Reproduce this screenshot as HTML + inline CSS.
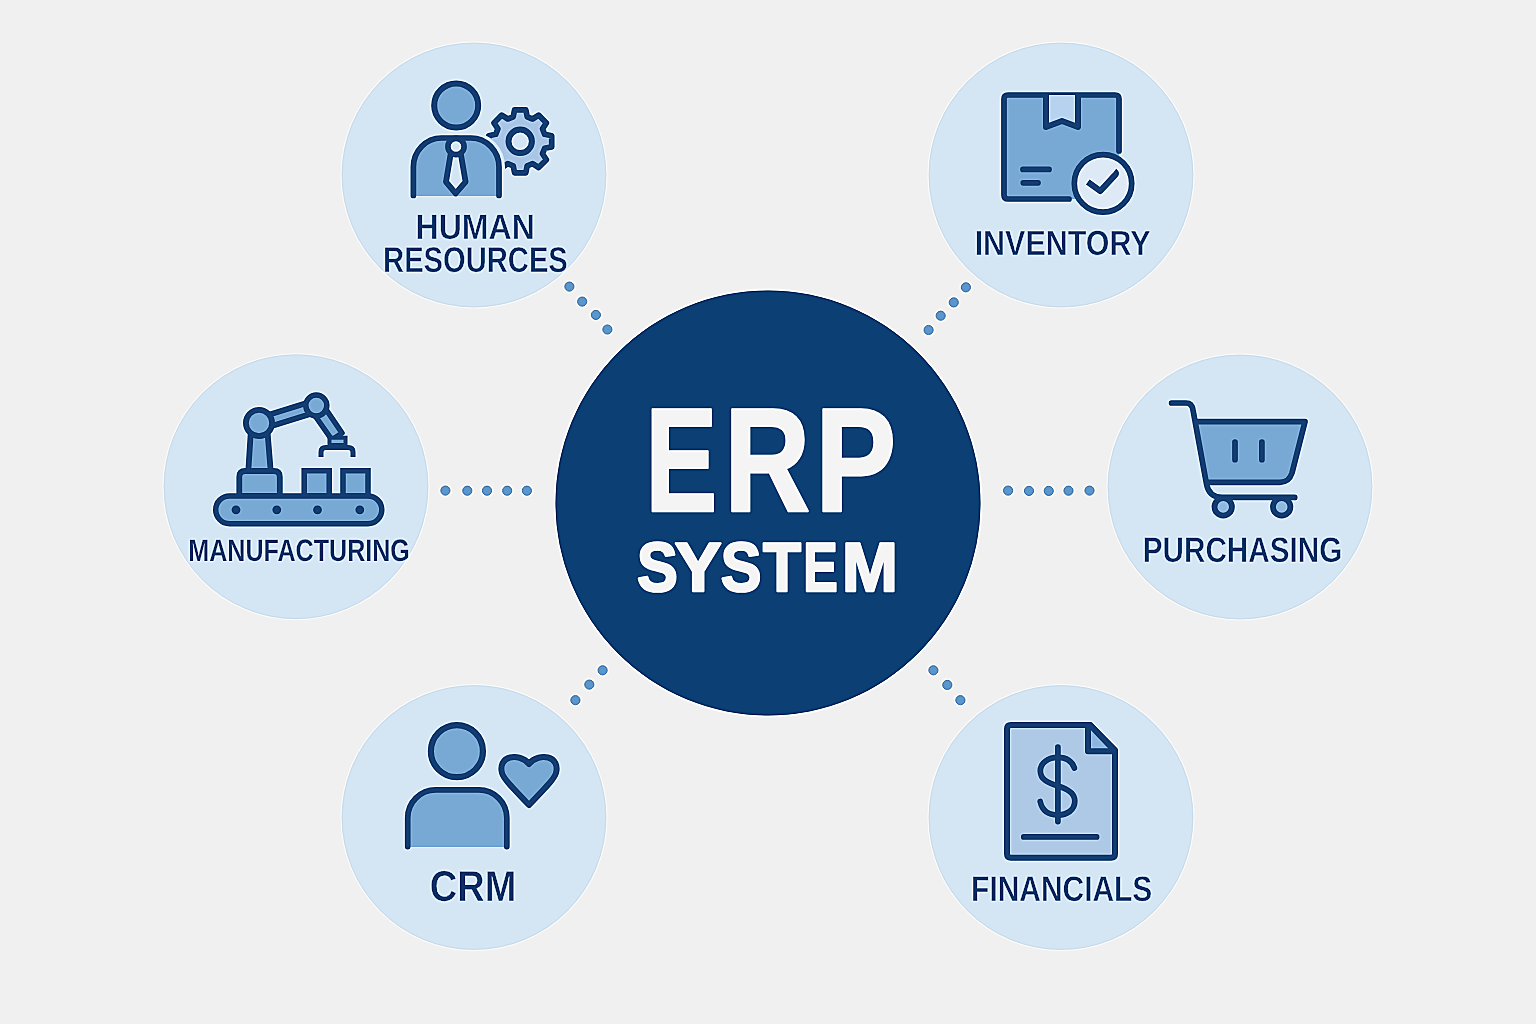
<!DOCTYPE html>
<html><head><meta charset="utf-8"><title>ERP System</title>
<style>html,body{margin:0;padding:0;background:#f0f0f0;}svg{display:block;}</style></head>
<body><svg width="1536" height="1024" viewBox="0 0 1536 1024" font-family="'Liberation Sans', sans-serif">
<defs><filter id="usm" x="-20" y="-20" width="1576" height="1064" filterUnits="userSpaceOnUse" color-interpolation-filters="sRGB"><feGaussianBlur in="SourceGraphic" stdDeviation="0.8" result="b"/><feComposite in="SourceGraphic" in2="b" operator="arithmetic" k1="0" k2="1.8" k3="-0.8" k4="0"/></filter></defs><g filter="url(#usm)"><rect x="-20" y="-20" width="1576" height="1064" fill="#f0f0f0"/>
<circle cx="569.4" cy="286.6" r="4.6" fill="#5e96ca" stroke="#457aae" stroke-width="0.9"/>
<circle cx="582.2" cy="301.6" r="4.6" fill="#5e96ca" stroke="#457aae" stroke-width="0.9"/>
<circle cx="595.9" cy="314.9" r="4.6" fill="#5e96ca" stroke="#457aae" stroke-width="0.9"/>
<circle cx="607.4" cy="329.5" r="4.6" fill="#5e96ca" stroke="#457aae" stroke-width="0.9"/>
<circle cx="965.9" cy="287.3" r="4.6" fill="#5e96ca" stroke="#457aae" stroke-width="0.9"/>
<circle cx="953.75" cy="302.4" r="4.6" fill="#5e96ca" stroke="#457aae" stroke-width="0.9"/>
<circle cx="940.7" cy="315.7" r="4.6" fill="#5e96ca" stroke="#457aae" stroke-width="0.9"/>
<circle cx="928.6" cy="330" r="4.6" fill="#5e96ca" stroke="#457aae" stroke-width="0.9"/>
<circle cx="445.4" cy="490.6" r="4.6" fill="#5e96ca" stroke="#457aae" stroke-width="0.9"/>
<circle cx="467.3" cy="490.7" r="4.6" fill="#5e96ca" stroke="#457aae" stroke-width="0.9"/>
<circle cx="487" cy="490.7" r="4.6" fill="#5e96ca" stroke="#457aae" stroke-width="0.9"/>
<circle cx="507.2" cy="490.7" r="4.6" fill="#5e96ca" stroke="#457aae" stroke-width="0.9"/>
<circle cx="526.9" cy="490.7" r="4.6" fill="#5e96ca" stroke="#457aae" stroke-width="0.9"/>
<circle cx="1008.1" cy="490.6" r="4.6" fill="#5e96ca" stroke="#457aae" stroke-width="0.9"/>
<circle cx="1029" cy="490.9" r="4.6" fill="#5e96ca" stroke="#457aae" stroke-width="0.9"/>
<circle cx="1048.75" cy="490.9" r="4.6" fill="#5e96ca" stroke="#457aae" stroke-width="0.9"/>
<circle cx="1068.5" cy="490.7" r="4.6" fill="#5e96ca" stroke="#457aae" stroke-width="0.9"/>
<circle cx="1089.5" cy="490.6" r="4.6" fill="#5e96ca" stroke="#457aae" stroke-width="0.9"/>
<circle cx="602.6" cy="670.3" r="4.6" fill="#5e96ca" stroke="#457aae" stroke-width="0.9"/>
<circle cx="589.3" cy="684.6" r="4.6" fill="#5e96ca" stroke="#457aae" stroke-width="0.9"/>
<circle cx="575.4" cy="700.2" r="4.6" fill="#5e96ca" stroke="#457aae" stroke-width="0.9"/>
<circle cx="933.4" cy="670.3" r="4.6" fill="#5e96ca" stroke="#457aae" stroke-width="0.9"/>
<circle cx="947.3" cy="684.9" r="4.6" fill="#5e96ca" stroke="#457aae" stroke-width="0.9"/>
<circle cx="960.4" cy="700.2" r="4.6" fill="#5e96ca" stroke="#457aae" stroke-width="0.9"/>
<circle cx="474" cy="175" r="132.5" fill="#d4e5f3"/>
<circle cx="474" cy="175" r="133" fill="none" stroke="#f8fbfe" stroke-width="1.1" stroke-opacity="0.55"/>
<circle cx="474" cy="175" r="131.8" fill="none" stroke="#c3d6e6" stroke-width="1" stroke-opacity="0.4"/>
<circle cx="1061" cy="175" r="132.5" fill="#d4e5f3"/>
<circle cx="1061" cy="175" r="133" fill="none" stroke="#f8fbfe" stroke-width="1.1" stroke-opacity="0.55"/>
<circle cx="1061" cy="175" r="131.8" fill="none" stroke="#c3d6e6" stroke-width="1" stroke-opacity="0.4"/>
<circle cx="296" cy="486.7" r="132.5" fill="#d4e5f3"/>
<circle cx="296" cy="486.7" r="133" fill="none" stroke="#f8fbfe" stroke-width="1.1" stroke-opacity="0.55"/>
<circle cx="296" cy="486.7" r="131.8" fill="none" stroke="#c3d6e6" stroke-width="1" stroke-opacity="0.4"/>
<circle cx="1240" cy="487" r="132.5" fill="#d4e5f3"/>
<circle cx="1240" cy="487" r="133" fill="none" stroke="#f8fbfe" stroke-width="1.1" stroke-opacity="0.55"/>
<circle cx="1240" cy="487" r="131.8" fill="none" stroke="#c3d6e6" stroke-width="1" stroke-opacity="0.4"/>
<circle cx="474" cy="817.5" r="132.5" fill="#d4e5f3"/>
<circle cx="474" cy="817.5" r="133" fill="none" stroke="#f8fbfe" stroke-width="1.1" stroke-opacity="0.55"/>
<circle cx="474" cy="817.5" r="131.8" fill="none" stroke="#c3d6e6" stroke-width="1" stroke-opacity="0.4"/>
<circle cx="1061" cy="817.5" r="132.5" fill="#d4e5f3"/>
<circle cx="1061" cy="817.5" r="133" fill="none" stroke="#f8fbfe" stroke-width="1.1" stroke-opacity="0.55"/>
<circle cx="1061" cy="817.5" r="131.8" fill="none" stroke="#c3d6e6" stroke-width="1" stroke-opacity="0.4"/>
<circle cx="768" cy="503" r="212.5" fill="#0c3f74"/>
<circle cx="768" cy="503" r="213.4" fill="none" stroke="#ffffff" stroke-width="1.3" stroke-opacity="0.55"/>
<circle cx="768" cy="503" r="212.2" fill="none" stroke="#062a55" stroke-width="1" stroke-opacity="0.45"/>
<g>
<path d="M513.2,116.8 L514.6,109.8 L525.8,109.8 L527.2,116.8 L532.6,119.0 L538.6,115.1 L546.4,122.9 L542.5,128.9 L544.7,134.3 L551.7,135.7 L551.7,146.9 L544.7,148.3 L542.5,153.7 L546.4,159.7 L538.6,167.5 L532.6,163.6 L527.2,165.8 L525.8,172.8 L514.6,172.8 L513.2,165.8 L507.8,163.6 L501.8,167.5 L494.0,159.7 L497.9,153.7 L495.7,148.3 L488.7,146.9 L488.7,135.7 L495.7,134.3 L497.9,128.9 L494.0,122.9 L501.8,115.1 L507.8,119.0 Z" fill="#a8c5e5" stroke="#153f73" stroke-width="5.7" stroke-linejoin="round"/>
<circle cx="520.2" cy="141.3" r="11.7" fill="#d3e4f3" stroke="#153f73" stroke-width="6"/>
<path d="M413.4,199 V167 A28,29 0 0 1 441.4,138 H471 A28,29 0 0 1 499,167 V199" fill="none" stroke="#d4e5f3" stroke-width="12"/>
<path d="M413.4,196 V167 A28,29 0 0 1 441.4,138 H471 A28,29 0 0 1 499,167 V196 Z" fill="#78a8d4"/>
<path d="M413.4,195.5 V167 A28,29 0 0 1 441.4,138 H471 A28,29 0 0 1 499,167 V195.5" fill="none" stroke="#153f73" stroke-width="5.7" stroke-linecap="round" stroke-linejoin="round" stroke-width="6.2"/>
<circle cx="456.2" cy="105.5" r="22" fill="#78a8d4" stroke="#153f73" stroke-width="6"/>
<path d="M451,152 L446,181.8 L455.6,193.4 L465.6,181.8 L460.5,152 Z" fill="#d3e4f3" stroke="#153f73" stroke-width="5.8" stroke-linejoin="round"/>
<circle cx="456" cy="146.5" r="8.1" fill="#d3e4f3" stroke="#153f73" stroke-width="5.6"/>
</g>
<g>
<rect x="1004" y="95" width="115" height="104" fill="#78a8d4"/>
<path d="M1119,151 V99 Q1119,95 1115,95 H1008 Q1004,95 1004,99 V195 Q1004,199 1008,199 H1069" fill="none" stroke="#153f73" stroke-width="5.7" stroke-linecap="round" stroke-linejoin="round"/>
<path d="M1046,95 V127 L1062,121 L1078,127 V95" fill="#b7d2ee" stroke="#153f73" stroke-width="6" stroke-linejoin="round"/>
<path d="M1023,169.4 H1049 M1023.3,182.8 H1038" fill="none" stroke="#153f73" stroke-width="5.7" stroke-linecap="round" stroke-linejoin="round"/>
<circle cx="1103" cy="183.4" r="28.7" fill="#dde9f4" stroke="#153f73" stroke-width="5.7"/>
<path d="M1087.8,182 L1100.3,191 L1115.2,174.8 Q1116.6,173 1114.3,171.2" fill="none" stroke="#153f73" stroke-width="6.2" stroke-linecap="butt" stroke-linejoin="round"/>
</g>
<g>
<path d="M248.3,471 L250.8,432 L267.5,432 L270.7,471 Z" fill="#78a8d4" stroke="#153f73" stroke-width="5.8" stroke-linejoin="round"/>
<path d="M258.5,418 L316.3,400 L320,411 L262,429 Z" fill="#78a8d4" stroke="#153f73" stroke-width="5.5" stroke-linejoin="round"/>
<path d="M311,410 L332,440 L342,433 L321,402 Z" fill="#78a8d4" stroke="#153f73" stroke-width="5.5" stroke-linejoin="round"/>
<circle cx="259" cy="423" r="13.1" fill="#78a8d4" stroke="#153f73" stroke-width="5.8"/>
<circle cx="316.3" cy="405.5" r="10.5" fill="#78a8d4" stroke="#153f73" stroke-width="5.5"/>
<rect x="329.5" y="437.7" width="16" height="7.3" fill="#78a8d4" stroke="#153f73" stroke-width="4"/>
<path d="M321,457 V452 Q321,447.5 326,447.5 H348 Q353,447.5 353,452 V457" fill="none" stroke="#153f73" stroke-width="5"/>
<path d="M239.3,496 V477 Q239.3,471 245.3,471 H273.8 Q279.8,471 279.8,477 V496 Z" fill="#78a8d4" stroke="#153f73" stroke-width="5.8"/>
<rect x="304.2" y="470.7" width="25" height="25.3" fill="#78a8d4" stroke="#153f73" stroke-width="5.5"/>
<rect x="343" y="470.7" width="25" height="25.3" fill="#78a8d4" stroke="#153f73" stroke-width="5.5"/>
<rect x="215.7" y="496" width="166.1" height="27.7" rx="13.85" fill="#78a8d4" stroke="#153f73" stroke-width="5.5"/>
<circle cx="236" cy="509.8" r="4.4" fill="#153f73"/>
<circle cx="276.8" cy="509.8" r="4.4" fill="#153f73"/>
<circle cx="317.5" cy="509.8" r="4.4" fill="#153f73"/>
<circle cx="359.8" cy="509.8" r="4.4" fill="#153f73"/>
</g>
<g>
<path d="M1196.9,421.7 H1305 L1292,473 Q1289,482.3 1280,482.3 H1208 Z" fill="#78a8d4"/>
<path d="M1196.9,421.7 H1305 L1292,473 Q1289,482.3 1280,482.3 H1208" fill="none" stroke="#153f73" stroke-width="5.7" stroke-linecap="round" stroke-linejoin="round" stroke-width="5.5"/>
<path d="M1171.6,403 H1186 Q1192,403 1193,410 L1206.5,484 Q1209,497.4 1222,497.4 H1294.7" fill="none" stroke="#153f73" stroke-width="5.7" stroke-linecap="round" stroke-linejoin="round" stroke-width="5.5"/>
<path d="M1235,442 V459.7 M1261.9,442 V459.7" fill="none" stroke="#153f73" stroke-width="5.7" stroke-linecap="round" stroke-linejoin="round" stroke-width="5.5"/>
<circle cx="1223.2" cy="506.9" r="8.7" fill="#8fb8df" stroke="#153f73" stroke-width="5.8"/>
<circle cx="1281.7" cy="506.9" r="8.7" fill="#8fb8df" stroke="#153f73" stroke-width="5.8"/>
</g>
<g>
<path d="M407.7,847 V818 A28,28 0 0 1 435.7,789.9 H478.8 A28,28 0 0 1 506.8,818 V847 Z" fill="#78a8d4"/>
<path d="M407.7,846.6 V818 A28,28 0 0 1 435.7,789.9 H478.8 A28,28 0 0 1 506.8,818 V846.6" fill="none" stroke="#153f73" stroke-width="5.7" stroke-linecap="round" stroke-linejoin="round" stroke-width="6.2"/>
<circle cx="456.9" cy="751.2" r="26" fill="#78a8d4" stroke="#153f73" stroke-width="6.2"/>
<path d="M529,764 C524,757 515,756.5 510,757.5 C503,759 500,766 502,773 C503.5,778 507,782 529,805 C551,782 554.5,778 556,773 C558,766 555,759 548,757.5 C543,756.5 534,757 529,764 Z" fill="#78a8d4" stroke="#153f73" stroke-width="6" stroke-linejoin="round"/>
</g>
<g>
<path d="M1090,724.9 H1011 Q1007,724.9 1007,729 V853.8 Q1007,857.8 1011,857.8 H1111 Q1115,857.8 1115,853.8 V750 Z" fill="#adc9e6" stroke="#153f73" stroke-width="6" stroke-linejoin="round"/>
<path d="M1088,724.9 V751.2 H1115 L1090,724.9 Z" fill="#8cb4de" stroke="#153f73" stroke-width="6" stroke-linejoin="round"/>
<path d="M1057.9,747.2 V821.6" fill="none" stroke="#153f73" stroke-width="5.7" stroke-linecap="round" stroke-linejoin="round" stroke-width="6.4"/>
<path d="M1074.4,768 C1072,761 1066,757.3 1058,757.3 C1048,757.3 1040.3,763 1040.3,771 C1040.3,779.5 1048,783 1058,786 C1068,789 1074.8,793 1074.8,801 C1074.8,810 1067,815 1058,815 C1048,815 1042,810 1040.2,801.5" fill="none" stroke="#153f73" stroke-width="5.7" stroke-linecap="round" stroke-linejoin="round" stroke-width="6.4"/>
<path d="M1023.8,836.9 H1096.6" fill="none" stroke="#153f73" stroke-width="5.7" stroke-linecap="round" stroke-linejoin="round" stroke-width="6.4"/>
</g>
<g font-family="Liberation Sans, sans-serif" font-weight="700">
<text transform="translate(681.40,511.49) scale(0.7316,1)" font-size="147.79" fill="#f4f4f4" stroke="#f4f4f4" stroke-width="2.40" stroke-linejoin="round" text-anchor="middle" text-rendering="geometricPrecision">E</text>
<text transform="translate(767.14,511.49) scale(0.8052,1)" font-size="147.79" fill="#f4f4f4" stroke="#f4f4f4" stroke-width="2.40" stroke-linejoin="round" text-anchor="middle" text-rendering="geometricPrecision">R</text>
<text transform="translate(855.70,511.49) scale(0.8200,1)" font-size="147.79" fill="#f4f4f4" stroke="#f4f4f4" stroke-width="2.40" stroke-linejoin="round" text-anchor="middle" text-rendering="geometricPrecision">P</text>
<text transform="translate(657.51,591.49) scale(0.8810,1)" font-size="69.48" fill="#f4f4f4" stroke="#f4f4f4" stroke-width="2.40" stroke-linejoin="round" text-anchor="middle" text-rendering="geometricPrecision">S</text>
<text transform="translate(698.05,591.07) scale(1.0125,1)" font-size="69.22" fill="#f4f4f4" stroke="#f4f4f4" stroke-width="2.40" stroke-linejoin="round" text-anchor="middle" text-rendering="geometricPrecision">Y</text>
<text transform="translate(741.03,591.49) scale(0.8783,1)" font-size="69.50" fill="#f4f4f4" stroke="#f4f4f4" stroke-width="2.40" stroke-linejoin="round" text-anchor="middle" text-rendering="geometricPrecision">S</text>
<text transform="translate(781.91,591.07) scale(0.8993,1)" font-size="69.22" fill="#f4f4f4" stroke="#f4f4f4" stroke-width="2.40" stroke-linejoin="round" text-anchor="middle" text-rendering="geometricPrecision">T</text>
<text transform="translate(820.38,591.07) scale(0.7464,1)" font-size="69.22" fill="#f4f4f4" stroke="#f4f4f4" stroke-width="2.40" stroke-linejoin="round" text-anchor="middle" text-rendering="geometricPrecision">E</text>
<text transform="translate(869.95,591.07) scale(0.9683,1)" font-size="69.22" fill="#f4f4f4" stroke="#f4f4f4" stroke-width="2.40" stroke-linejoin="round" text-anchor="middle" text-rendering="geometricPrecision">M</text>
<text transform="translate(475.23,239.15) scale(0.9072,1)" font-size="35.37" fill="#11356a" stroke="#d4e5f3" stroke-width="0.50" stroke-linejoin="round" text-anchor="middle" text-rendering="geometricPrecision">HUMAN</text>
<text transform="translate(475.46,271.83) scale(0.8139,1)" font-size="35.83" fill="#11356a" stroke="#d4e5f3" stroke-width="0.50" stroke-linejoin="round" text-anchor="middle" text-rendering="geometricPrecision">RESOURCES</text>
<text transform="translate(1062.62,254.87) scale(0.8702,1)" font-size="34.99" fill="#11356a" stroke="#d4e5f3" stroke-width="0.50" stroke-linejoin="round" text-anchor="middle" text-rendering="geometricPrecision">INVENTORY</text>
<text transform="translate(299.10,560.69) scale(0.8086,1)" font-size="31.03" fill="#11356a" stroke="#d4e5f3" stroke-width="0.25" stroke-linejoin="round" text-anchor="middle" text-rendering="geometricPrecision">MANUFACTURING</text>
<text transform="translate(1242.53,562.47) scale(0.8360,1)" font-size="35.49" fill="#11356a" stroke="#d4e5f3" stroke-width="0.50" stroke-linejoin="round" text-anchor="middle" text-rendering="geometricPrecision">PURCHASING</text>
<text transform="translate(473.09,900.82) scale(0.8780,1)" font-size="43.26" fill="#11356a" stroke="#d4e5f3" stroke-width="0.50" stroke-linejoin="round" text-anchor="middle" text-rendering="geometricPrecision">CRM</text>
<text transform="translate(1061.71,900.96) scale(0.8419,1)" font-size="35.56" fill="#11356a" stroke="#d4e5f3" stroke-width="0.50" stroke-linejoin="round" text-anchor="middle" text-rendering="geometricPrecision">FINANCIALS</text>
</g></g>
</svg></body></html>
